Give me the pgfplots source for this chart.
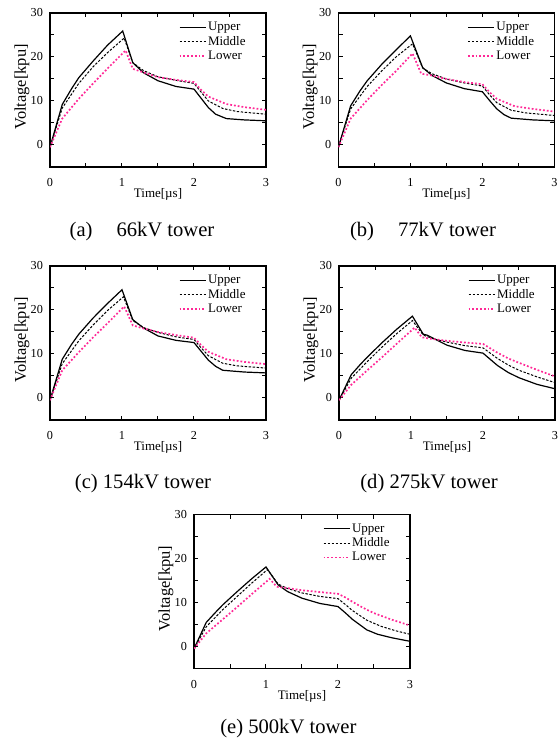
\documentclass[border=0pt]{standalone}
\usepackage{fontspec}
\setmainfont{Liberation Serif}
\usepackage{pgfplots}
\pgfplotsset{compat=1.18}

\definecolor{lowpink}{RGB}{255,40,150}

\newcommand{\sz}{\fontsize{6.5}{7.5}\selectfont}
\newcommand{\tk}{\fontsize{6.1}{7}\selectfont}
\newcommand{\yl}{\fontsize{8.2}{9}\selectfont}
\newcommand{\capf}{\fontsize{10.3}{12}\selectfont}

\pgfplotsset{
  towerax/.style={
    scale only axis,
    width=108pt, height=77pt,
    anchor=south west,
    xmin=0, xmax=3, ymin=-5, ymax=30,
    xtick={0,1,2,3}, ytick={0,10,20,30},
    minor x tick num=1, minor y tick num=1,
    tick align=inside,
    major tick length=2.2pt, minor tick length=2.2pt,
    axis line style={line width=0.6pt},
    every tick/.style={black, line width=0.5pt},
    /pgf/number format/assume math mode=true,
    tick label style={font=\tk},
    xticklabel style={yshift=-2.4pt},
    yticklabel style={xshift=0pt},
    xlabel={Time[µs]}, ylabel={Voltage[kpu]},
    xlabel style={font=\sz, at={(axis description cs:0.5,-0.18)}, anchor=center},
    ylabel style={font=\yl, at={(axis description cs:-0.13,0.52)}, anchor=center},
    legend style={draw=none, fill=none, font=\sz,
      at={(rel axis cs:0.915,0.955)}, anchor=north east,
      inner sep=0pt, row sep=-0.3pt,
      nodes={inner sep=0.8pt}},
    legend cell align=left,
    legend image code/.code={\draw[#1] (0pt,0.2pt) -- (13pt,0.2pt);},
  },
  up/.style={black, line width=0.6pt},
  mid/.style={black, line width=0.5pt, dash pattern=on 1.2pt off 0.8pt},
  low/.style={lowpink, line width=0.85pt, dash pattern=on 0.9pt off 1.0pt},
}

\begin{document}
\begin{tikzpicture}
\useasboundingbox (0,0) rectangle (280pt,370pt);

% (a) 66kV
\begin{axis}[towerax, at={(25pt,286.5pt)}]
\addplot[up] coordinates {(0,-0.5) (0.17,9.2) (0.3,12.8) (0.4,15.3) (0.6,19.1) (0.8,22.7) (1.01,25.9) (1.15,18.7) (1.3,16.4) (1.5,14.6) (1.75,13.3) (2.0,12.7) (2.1,10.6) (2.2,8.5) (2.3,7.0) (2.45,6.0) (2.7,5.7) (3,5.5)};
\addlegendentry{Upper}
\addplot[mid] coordinates {(0,-0.5) (0.17,8.4) (0.4,14.0) (0.6,17.8) (0.8,21.0) (1.03,24.3) (1.15,18.7) (1.3,16.9) (1.5,15.5) (1.75,14.7) (2.0,14.0) (2.1,12.0) (2.2,10.0) (2.4,8.3) (2.6,7.6) (3,7.0)};
\addlegendentry{Middle}
\addplot[low] coordinates {(0,-0.5) (0.17,6.0) (0.4,10.5) (0.6,14.0) (0.8,17.4) (1.05,21.5) (1.15,17.3) (1.3,16.5) (1.5,15.4) (1.75,14.8) (2.0,14.3) (2.1,12.5) (2.2,11.0) (2.45,9.3) (2.7,8.6) (3,8.0)};
\addlegendentry{Lower}
\end{axis}

% (b) 77kV
\begin{axis}[towerax, at={(169.2pt,286.5pt)}]
\addplot[up] coordinates {(0,-0.5) (0.17,8.9) (0.3,12.3) (0.4,14.6) (0.6,18.3) (0.8,21.6) (1.0,24.8) (1.17,17.6) (1.3,15.8) (1.5,14.1) (1.75,12.8) (2.0,12.1) (2.1,10.1) (2.2,8.2) (2.3,6.9) (2.4,6.1) (2.7,5.7) (3,5.5)};
\addlegendentry{Upper}
\addplot[mid] coordinates {(0,-0.5) (0.17,8.2) (0.4,13.3) (0.6,16.8) (0.8,20.0) (1.03,23.0) (1.17,17.5) (1.3,16.2) (1.5,15.0) (1.75,14.1) (2.0,13.4) (2.1,11.4) (2.2,9.6) (2.4,7.9) (2.6,7.3) (3,6.7)};
\addlegendentry{Middle}
\addplot[low] coordinates {(0,-0.5) (0.17,6.0) (0.4,10.2) (0.6,13.6) (0.8,16.8) (1.03,20.8) (1.15,16.2) (1.3,15.8) (1.5,15.0) (1.75,14.3) (2.0,13.8) (2.1,12.0) (2.2,10.5) (2.45,8.8) (2.7,8.2) (3,7.6)};
\addlegendentry{Lower}
\end{axis}

% (c) 154kV
\begin{axis}[towerax, at={(25pt,160pt)}]
\addplot[up] coordinates {(0,-0.5) (0.17,8.8) (0.3,12.2) (0.4,14.5) (0.6,18.2) (0.8,21.5) (1.0,24.6) (1.15,17.8) (1.3,15.9) (1.5,14.1) (1.75,13.1) (2.0,12.6) (2.1,10.6) (2.2,8.6) (2.3,7.2) (2.4,6.3) (2.7,5.9) (3,5.7)};
\addlegendentry{Upper}
\addplot[mid] coordinates {(0,-0.5) (0.17,7.8) (0.4,13.0) (0.6,16.6) (0.8,19.9) (1.02,23.0) (1.15,17.6) (1.3,16.0) (1.5,14.9) (1.75,13.9) (2.0,13.3) (2.1,11.4) (2.2,9.6) (2.4,7.9) (2.6,7.3) (3,6.8)};
\addlegendentry{Middle}
\addplot[low] coordinates {(0,-0.5) (0.17,6.3) (0.4,10.4) (0.6,13.8) (0.8,17.0) (1.03,20.8) (1.15,16.5) (1.3,15.8) (1.5,15.0) (1.75,14.3) (2.0,13.7) (2.1,12.0) (2.2,10.5) (2.45,8.8) (2.7,8.2) (3,7.7)};
\addlegendentry{Lower}
\end{axis}

% (d) 275kV
\begin{axis}[towerax, at={(169.5pt,160pt)}]
\addplot[up] coordinates {(0,-0.5) (0.17,5.3) (0.3,7.7) (0.4,9.4) (0.6,12.6) (0.8,15.6) (1.02,18.6) (1.17,14.5) (1.22,14.3) (1.5,12.0) (1.75,10.8) (2.0,10.2) (2.1,8.8) (2.2,7.4) (2.35,5.8) (2.5,4.6) (2.75,3.1) (3,2.1)};
\addlegendentry{Upper}
\addplot[mid] coordinates {(0,-0.5) (0.17,4.5) (0.4,8.4) (0.6,11.6) (0.8,14.6) (1.02,17.6) (1.17,14.3) (1.3,13.5) (1.5,12.7) (1.75,11.9) (2.0,11.4) (2.1,10.2) (2.2,9.0) (2.35,7.5) (2.5,6.3) (2.75,4.8) (3,3.5)};
\addlegendentry{Middle}
\addplot[low] coordinates {(0,-0.5) (0.17,3.0) (0.4,6.4) (0.6,9.3) (0.8,12.3) (1.05,16.0) (1.15,13.8) (1.3,13.4) (1.5,13.0) (1.75,12.6) (2.0,12.3) (2.1,11.3) (2.2,10.3) (2.35,9.0) (2.5,8.0) (2.75,6.4) (3,4.9)};
\addlegendentry{Lower}
\end{axis}

% (e) 500kV
\begin{axis}[towerax, at={(97pt,35.7pt)}]
\addplot[up] coordinates {(0,-0.5) (0.17,5.5) (0.3,7.8) (0.4,9.5) (0.6,12.5) (0.8,15.4) (1.0,18.1) (1.17,14.0) (1.3,12.5) (1.5,11.0) (1.75,9.8) (2.0,9.1) (2.1,7.7) (2.2,6.2) (2.4,3.8) (2.55,2.8) (2.75,2.0) (3,1.2)};
\addlegendentry{Upper}
\addplot[mid] coordinates {(0,-0.5) (0.17,4.5) (0.4,8.4) (0.6,11.4) (0.8,14.4) (1.02,17.5) (1.17,14.2) (1.3,13.2) (1.5,12.2) (1.75,11.4) (2.0,10.9) (2.1,9.6) (2.2,8.2) (2.4,6.0) (2.6,4.6) (2.8,3.6) (3,2.8)};
\addlegendentry{Middle}
\addplot[low] coordinates {(0,-0.5) (0.17,3.0) (0.4,6.2) (0.6,9.0) (0.8,11.9) (1.05,15.4) (1.15,13.6) (1.3,13.3) (1.5,12.8) (1.75,12.4) (2.0,12.0) (2.1,11.2) (2.2,10.2) (2.35,8.8) (2.5,7.6) (2.75,6.1) (3,4.8)};
\addlegendentry{Lower}
\end{axis}

\node[anchor=base, font=\capf] at (71pt,251.5pt) {(a)\hspace{12pt}66kV tower};
\node[anchor=base, font=\capf] at (211.5pt,251.5pt) {(b)\hspace{12pt}77kV tower};
\node[anchor=base, font=\capf] at (71.5pt,125.5pt) {(c) 154kV tower};
\node[anchor=base, font=\capf] at (214.5pt,125.5pt) {(d) 275kV tower};
\node[anchor=base, font=\capf] at (144.2pt,3pt) {(e) 500kV tower};
\end{tikzpicture}
\end{document}
